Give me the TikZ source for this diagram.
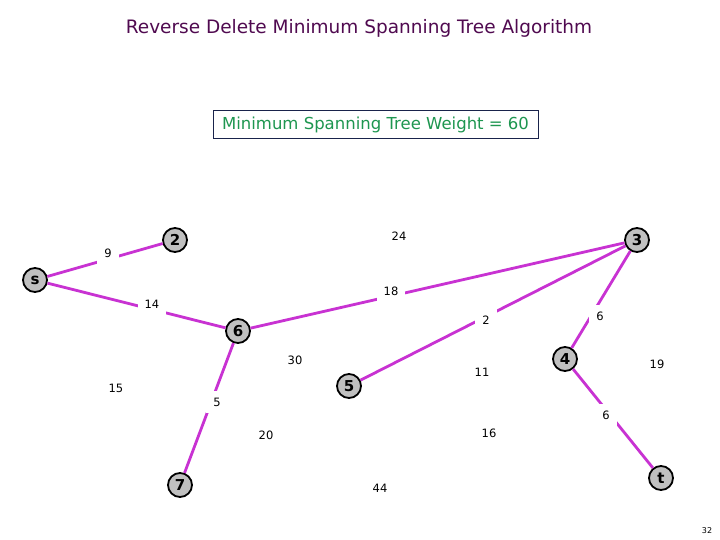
\documentclass[tikz,border=0pt]{standalone}
\usepackage{fontspec}
\setmainfont{DejaVu Sans}
\definecolor{edgec}{RGB}{200,50,210}
\definecolor{titlec}{RGB}{80,10,80}
\definecolor{greenc}{RGB}{30,150,80}
\definecolor{boxc}{RGB}{25,35,75}
\definecolor{nodec}{RGB}{192,192,192}
\begin{document}
\begin{tikzpicture}[x=1pt,y=-1pt,
  vert/.style={circle,draw=black,line width=1.8pt,fill=nodec,minimum size=24pt,inner sep=0pt,font=\bfseries\fontsize{15}{15}\selectfont},
  wlab/.style={fill=white,inner sep=7pt,font=\fontsize{11.5}{11.5}\selectfont},
  mst/.style={draw=edgec,line width=2.8pt}]
\useasboundingbox[fill=white] (0,0) rectangle (720,540);
\node[text=titlec,font=\fontsize{18.5}{18.5}\selectfont] (title) at (359,28) {Reverse Delete Minimum Spanning Tree Algorithm};
\node[draw=boxc,line width=1pt,text=greenc,minimum width=325pt,minimum height=28pt,font=\fontsize{16.5}{16.5}\selectfont] (box) at (375.5,125) {Minimum Spanning Tree Weight = 60};
% vertices
\node[vert] (s) at (35,280) {s};
\node[vert] (n2) at (175,240) {2};
\node[vert] (n3) at (637,240) {3};
\node[vert] (n6) at (238,331) {6};
\node[vert] (n5) at (349,386) {5};
\node[vert] (n4) at (565,359) {4};
\node[vert] (n7) at (180,485) {7};
\node[vert] (t) at (661,478) {t};
% MST edges
\draw[mst] (s) -- (n2);
\draw[mst] (s) -- (n6);
\draw[mst] (n6) -- (n3);
\draw[mst] (n5) -- (n3);
\draw[mst] (n4) -- (n3);
\draw[mst] (n4) -- (t);
\draw[mst] (n6) -- (n7);
% weights
\node[wlab] (w9) at (108,253) {9};
\node[wlab] (w24) at (399,236) {24};
\node[wlab] (w18) at (391,291) {18};
\node[wlab] (w14) at (152,304) {14};
\node[wlab] (w2) at (486,320) {2};
\node[wlab] (w6a) at (600,316) {6};
\node[wlab] (w30) at (295,360) {30};
\node[wlab] (w11) at (482,372) {11};
\node[wlab] (w19) at (657,364) {19};
\node[wlab] (w15) at (116,388) {15};
\node[wlab] (w5) at (217,402) {5};
\node[wlab] (w6b) at (606,415) {6};
\node[wlab] (w20) at (266,435) {20};
\node[wlab] (w16) at (489,433) {16};
\node[wlab] (w44) at (380,488) {44};
\node[font=\fontsize{8}{8}\selectfont] (page) at (707,531) {32};
\end{tikzpicture}
\end{document}
